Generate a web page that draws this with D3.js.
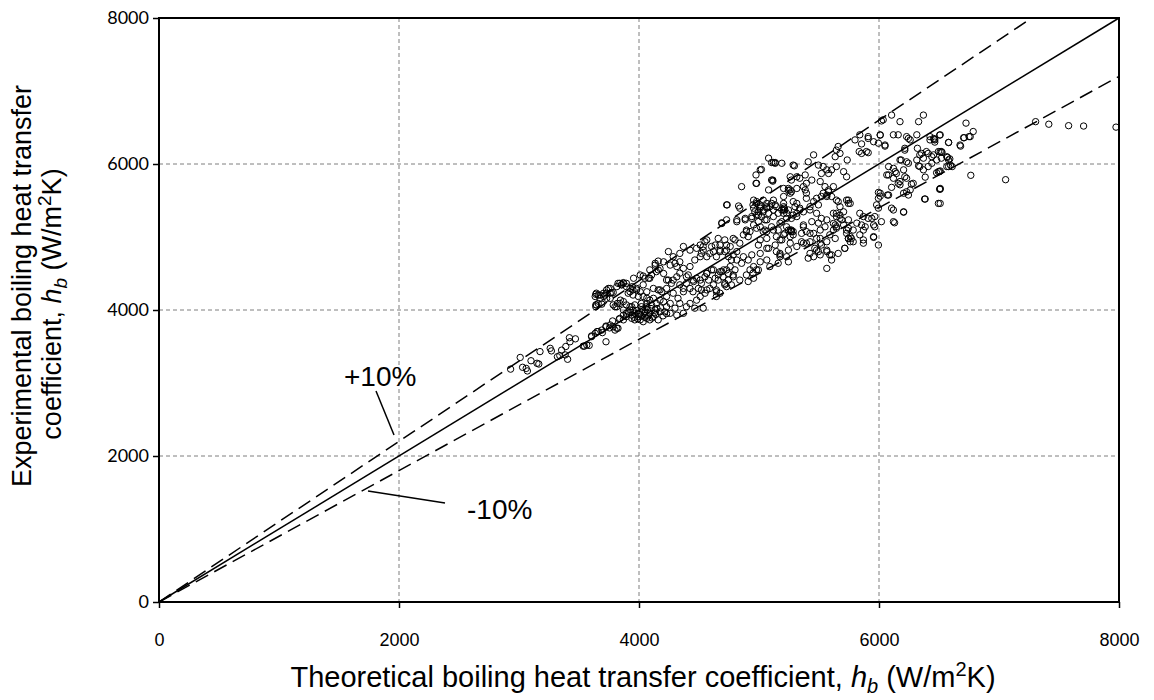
<!DOCTYPE html>
<html>
<head>
<meta charset="utf-8">
<script src="https://cdn.jsdelivr.net/npm/d3@7"></script>
<style>
  body { margin: 0; background: #fff; }
  svg text { font-family: "Liberation Sans", Arial, sans-serif; fill: #000; }
</style>
</head>
<body>
<div id="chart"></div>
<script>
// theoretical h_b (x) vs experimental h_b (y), W/m2K
const lowTail = [
  [2930,3190],[3010,3350],[3030,3215],[3060,3200],[3070,3165],[3100,3305],[3150,3270],[3165,3260],
  [3175,3430],[3260,3475],[3270,3440],[3320,3360],[3340,3375],[3355,3450],[3385,3385],[3390,3500],
  [3405,3325],[3420,3620],[3425,3565],[3470,3605],[3535,3505],[3545,3505],[3565,3520],[3585,3515],
  [3605,3635],[3605,3645],[3635,3680],[3650,3705],[3660,3705],[3690,3725],[3695,3690],[3725,3565],
  [3725,3780],[3725,3770],[3755,3755],[3760,3795],[3780,3850],[3785,3770],[3815,3750],[3835,3875],
  [3800,3725],[3825,3750],[3840,3885],[3870,3865]
];

const coreCluster = [
  [3640,4215],[3660,4205],[3675,4160],[3705,4185],[3730,4230],[3745,4295],[3760,4160],[3645,4070],
  [3690,4080],[3640,4045],[3785,4240],[3840,4365],[3870,4365],[3895,4320],[3945,4320],[3980,4275],
  [4035,4465],[4080,4435],[3800,4045],[3820,4090],[3845,4135],[3870,4000],[3895,3955],[3925,4000],
  [3940,4045],[3965,3955],[3995,3910],[4020,4045],[4050,3975],[4065,4090],
  [3870,3930],[3895,3910],[3940,3885],[3965,3865],[4010,3865],[4035,3840],[4065,3885],[4090,3865],
  [4120,3910],[4160,3865],[3910,3975],[3950,4000],[3995,3955],[4050,3955],[4090,3955],[4135,4000],
  [3925,4045],[3965,4070],[4020,4090],[4065,4045],[4105,4070],[4145,4090],[3840,4090],[3870,4115],
  [3895,4070],[3815,4045],[3785,4070],[3645,4230],[3635,4185],[3675,4205],[3640,4070],[3660,4090],
  [3715,4205],[3730,4160],[3760,4230],[3770,4240],[3825,4365],[3855,4345],[3870,4375],[3925,4295],
  [3950,4275],[4010,4250],[3910,4230],[3950,4205],[3995,4185],[4035,4185],[4065,4160],[4090,4135],
  [4120,4160],[4175,4135],[4205,4115],[4230,4185],[4160,4275],[4190,4250],[4230,4295],[4090,4435],
  [4145,4525],[4175,4570],[4205,4500],[4135,4640],[4260,4615],[4300,4640],[4340,4660],[4245,4410],
  [4285,4410],[4315,4455],[4340,4345],[4370,4295],[4395,4365],[4285,4230],[4325,4160],[4340,4090],
  [4230,4045],[4260,4090],[4300,4025],[4175,3975],[4215,3975],[4260,3955],[4315,3930],[4370,3955],
  [4395,4045],[4425,4090],[4480,4135],[4510,4185],[4550,4230],[4590,4295],[4620,4345],[4660,4410],
  [4700,4455],[4745,4500],[4450,4250],[4495,4295],[4520,4365],[4450,4410],[4480,4435],[4410,4480],
  [4465,4025],[4690,4525],[4730,4550],[4565,4500],[4605,4550],[4645,4275],[4675,4230],[4535,4025],
  [4645,4185],[4715,4365],[4745,4410],
  [3960,3900],[3990,3880],[4020,3920],[4050,3900],[4080,3920],[4110,3890],[4140,3940],[3980,3990],
  [4030,4010],[4070,4000],[4100,4020],[4130,3960],[4000,3940],[4060,3930],[3940,3930],[4150,4020],
  [4180,4030],[4200,3920],[4230,3950]
];

const midCluster = [
  [5105,6020],[5135,6020],[5295,5975],[4975,5850],[5020,5925],[4975,5735],[5115,5780],[4855,5690],
  [5260,5825],[5205,5665],[5245,5640],[4730,5440],[4955,5505],[4980,5485],[5010,5440],[5035,5505],
  [4955,5395],[4995,5345],[5035,5370],[5065,5415],[4980,5300],[5020,5280],[4940,5280],[5080,5325],
  [5105,5460],[5120,5370],[5145,5415],[5190,5370],[5205,5460],[5230,5325],[5285,5485],[5300,5415],
  [5315,5325],[5270,5255],[4690,5195],[4815,5210],[4885,5235],[4895,5095],[4925,5075],[4980,5120],
  [5035,5075],[5010,4960],[5065,4980],[5120,5095],[5145,5005],[5190,4960],[5245,5095],[5270,5075],
  [5260,5005],[4840,4915],[4800,4960],[4730,4890],[4660,4980],[4565,4960],[4510,4890],[4480,4845],
  [4425,4820],[4370,4870],[4340,4775],[4285,4730],[4245,4800],[4205,4660],[4160,4670],[4135,4615],
  [4090,4550],[4050,4435],[4010,4480],[3955,4435],[3895,4365],[3855,4345],[3815,4320],[3760,4295],
  [3730,4275],[3705,4230],[4315,4595],[4370,4570],[4425,4595],[4465,4685],[4510,4730],[4535,4820],
  [4590,4775],[4645,4730],[4675,4820],[4715,4800],[4745,4730],[4770,4685],[4815,4800],[4870,4730],
  [4910,4685],[4940,4755],[4955,4595],[4995,4550],[5010,4660],[5065,4685],[5175,4755],[5245,4660],
  [5090,4595],[4230,4410],[4270,4365],[4340,4505],[4395,4455],[4455,4390],[4510,4410],[4565,4505],
  [4620,4550],[4660,4480],[4705,4550],[4760,4595],[4785,4480],[4840,4410],[4895,4480],[4955,4435],
  [4160,4550],[4105,4480],[4035,4345],[3980,4295],[3925,4250],[4065,4250],[4120,4295],[4175,4275],
  [4370,4250],[4425,4295],[4565,4275],[4645,4250],[4730,4320],
  [4980,5735],[5115,5765],[4735,5440],[4830,5425],[4840,5395],[4950,5440],[4980,5460],[5010,5415],
  [5065,5395],[4965,5345],[4995,5300],[4940,5255],[4955,5165],[4995,5210],[5050,5235],[4690,5185],
  [4730,5235],[4815,5235],[4885,5255],[5105,5140],[5160,5095],[5065,5075],[4895,5075],[4870,5030],
  [4910,5005],[4785,4980],[4715,4960],[4675,4890],[4635,4890],[4605,4870],[4550,4935],[4535,4870],
  [4520,4775],[4565,4730],[4620,4800],[4675,4800],[4730,4820],[4760,4870],[4785,4755],[4815,4685],
  [4855,4640],[4995,4890],[5010,4775],[5080,4845],[5145,4800],[5230,4730],[5175,4730],[5160,4640],
  [4925,4550],[4950,4505],[4980,4550],[4800,4550],[4785,4455],[4675,4525],[4635,4435],[4580,4410],
  [4550,4455],[4715,4345],[4770,4345],[4910,4390],[4520,4275]
];

const upperCluster = [
  [5190,5210],[5230,5140],[5270,5095],[5215,5050],[5245,5370],[5205,5370],[5205,5325],[5260,5600],
  [5315,5665],[5385,5645],[5395,5530],[5340,5370],[5425,5415],[5495,5440],[5535,5600],[5565,5575],
  [5580,5645],[5620,5690],[5645,5505],[5660,5485],[5730,5505],[5745,5460],[5480,5325],[5520,5255],
  [5565,5235],[5620,5325],[5645,5280],[5675,5300],[5620,5185],[5635,5165],[5645,5120],[5730,5095],
  [5370,5140],[5425,5050],[5480,4980],[5510,4915],[5465,4845],[5495,4800],[5510,4755],[5565,4820],
  [5590,4755],[5565,4570],[5605,4685],[5410,4710],[5355,4935],[5395,4915],[5260,4915],[5315,5280],
  [5715,4845],[5745,4980],[5705,5345],
  [6020,6590],[6330,6580],[5840,6400],[5910,6375],[5955,6305],[5995,6285],[6050,6260],[5800,6330],
  [5855,6275],[5835,6170],[5895,6170],[6010,6400],[6120,6400],[6160,6400],[6230,6375],[6245,6350],
  [6260,6330],[6315,6400],[6425,6375],[6455,6350],[6465,6330],[6510,6400],[6580,6295],[5660,6240],
  [5645,6190],[5675,6145],[5635,6100],[5455,6125],[5410,6030],[5735,6055],[6215,6215],[6395,6170],
  [6455,6125],[6510,6170],[6520,6080],[6565,6100],[6580,6055],[6340,6125],[6175,6055],[6230,6030],
  [6315,6055],[6370,6080],[6410,5965],[6440,6010],[6340,5965],[6370,5920],[6495,5895],[6565,5965],
  [6595,5985],[6080,5965],[6120,5940],[6145,5870],[6120,5805],[6160,5735],[6175,5715],[6065,5850],
  [6230,5805],[6285,5735],[6260,5645],[6205,5600],[6230,5620],[6510,5665],[6380,5520],[6495,5460],
  [6205,5345],[6105,5395],[6120,5210],[5995,5610],[6010,5560],[6080,5575],[5980,5440],[5995,5395],
  [5965,5280],[5910,5255],[5840,5325],[5955,5165],[5955,5005],[5870,5095],[5840,5030],[5770,4980],
  [5760,4935],[5715,4845],[5815,5190],[5785,5095],[5745,5235],[5745,5120],[5705,5165],[5675,5255],
  [5645,5325],[5675,5415],[5745,5505],[5760,5460],[5645,5140],[5620,5095],[5590,5030],[5635,4980],
  [5565,4935],[5520,4890],[5480,4820],[5425,4775],[5455,4730],[5565,4800],[5605,4755],[5660,4775],
  [5510,4980],[5455,5050],[5395,5075],[5355,5050],[5285,5030],[5260,5095],[5270,5075],[5285,5075],
  [5205,5030],[5175,4960],[5135,4890],[5065,4845],[5175,4775],[5245,4820],[5315,4870],[5370,4915],
  [5425,4935],[5510,5095],[5550,5140],[5495,5190],[5440,5210],[5370,5165],
  [5080,6080],[5120,6020],[5135,6010],[5010,5920],[5105,5780],[5080,5645],[5190,6010],[5285,5985],
  [5495,5985],[5535,5965],[5565,5920],[5605,5920],[5645,5965],[5705,5895],[5730,5825],[5580,5870],
  [5520,5870],[5510,5760],[5550,5690],[5580,5620],[5605,5555],[5565,5555],[5520,5555],[5480,5530],
  [5455,5485],[5395,5600],[5370,5690],[5395,5735],[5440,5780],[5385,5850],[5340,5805],[5315,5825],
  [5270,5780],[5245,5665],[5260,5645],[5270,5620],[5205,5555],[5205,5415],[5210,5395],[5215,5370],
  [5120,5505],[5135,5440],[5065,5460],[5090,5415],[5010,5395],[5035,5345],[5120,5280],[5065,5235],
  [5010,5140],[5050,5095],[5160,5325],[5315,5460],[5340,5395],[5285,5300],[5370,5345],[5425,5370],
  [5230,5255],[5175,5190],
  [6105,6670],[6370,6670],[6035,6605],[6175,6580],[5910,6350],[6010,6395],[6050,6245],[6320,6215],
  [6425,6330],[6460,6340],[6465,6300],[6505,6395],[6675,6260],[5855,6145],[5910,6155],[6215,6190],
  [6355,6145],[6410,6145],[6440,6100],[6495,6170],[6520,6170],[6480,6055],[6185,6055],[6245,6010],
  [6330,5975],[6135,5895],[6205,5920],[6080,5850],[6175,5760],[6215,5825],[6270,5725],[6385,5820],
  [6480,5880],[6505,5895],[6505,5655],[6385,5520],[6120,5370],[6205,5340],[6130,5195],[6020,5210],
  [6245,5575],[6105,5680],[6070,5575],[6010,5600],[5995,5530],[5940,5255],[5965,5140],[5885,5140],
  [5855,5165],[5995,4890],[5955,4995],[5870,4960],[5870,4915],[5785,4935],[5745,4980],[5760,5005],
  [5870,5280],[5730,5050],[5690,5235]
];

const highTail = [
  [7305,6580],[7415,6545],[7580,6525],[7705,6520],[7975,6505],[6765,5845],[7055,5785],[6725,6560],
  [6785,6445],[6750,6375],[6705,6360],[6680,6245],[6580,6295],[6525,6160],[6570,6090],[6590,6070],
  [6580,5965],[6610,5965],[6510,5905],[6510,5655],[6510,5460],[6760,6375],[6710,6360]
];

const ticks = [0, 2000, 4000, 6000, 8000];
const plusBand = 1.1, minusBand = 0.9;

const points = [].concat(lowTail, coreCluster, midCluster, upperCluster, highTail);

const width = 1154, height = 700;
const plotLeft = 159, plotRight = 1119, plotTop = 18, plotBottom = 602;

const svg = d3.select('#chart').append('svg')
  .attr('width', width)
  .attr('height', height);

const x = d3.scaleLinear().domain([0, 8000]).range([plotLeft, plotRight]);
const y = d3.scaleLinear().domain([0, 8000]).range([plotBottom, plotTop]);

// gridlines
const grid = svg.append('g');
grid.selectAll('.vgrid').data(ticks.slice(1, -1)).enter().append('line')
  .attr('x1', d => x(d)).attr('x2', d => x(d))
  .attr('y1', plotTop).attr('y2', plotBottom)
  .attr('stroke', '#7f7f7f').attr('stroke-width', 1).attr('stroke-dasharray', '4,3');
grid.selectAll('.hgrid').data(ticks.slice(1, -1)).enter().append('line')
  .attr('y1', d => y(d)).attr('y2', d => y(d))
  .attr('x1', plotLeft).attr('x2', plotRight)
  .attr('stroke', '#7f7f7f').attr('stroke-width', 1).attr('stroke-dasharray', '4,3');

// axes
const xAxis = svg.append('g')
  .attr('transform', `translate(0,${plotBottom})`)
  .call(d3.axisBottom(x).tickValues(ticks).tickSize(6).tickPadding(25).tickFormat(d3.format('d')));
const yAxis = svg.append('g')
  .attr('transform', `translate(${plotLeft},0)`)
  .call(d3.axisLeft(y).tickValues(ticks).tickSize(6).tickPadding(4).tickFormat(d3.format('d')));

[xAxis, yAxis].forEach(a => {
  a.select('.domain').remove();
  a.selectAll('.tick line').attr('stroke', '#000').attr('stroke-width', 1.5);
});
xAxis.selectAll('.tick text').style('font-size', '18px').style('font-family', '"Liberation Sans", Arial, sans-serif');
yAxis.selectAll('.tick text').style('font-size', '18px').style('font-family', 'Lato, "Open Sans", sans-serif');

// reference lines
const line = d3.line().x(d => x(d[0])).y(d => y(d[1]));
svg.append('path')
  .attr('d', line([[0, 0], [8000, 8000]]))
  .attr('fill', 'none').attr('stroke', '#000').attr('stroke-width', 1.5);
svg.append('path')
  .attr('d', line([[0, 0], [8000 / plusBand, 8000]]))
  .attr('fill', 'none').attr('stroke', '#000').attr('stroke-width', 1.5).attr('stroke-dasharray', '14,7');
svg.append('path')
  .attr('d', line([[0, 0], [8000, 8000 * minusBand]]))
  .attr('fill', 'none').attr('stroke', '#000').attr('stroke-width', 1.5).attr('stroke-dasharray', '14,7');

// data points
svg.append('g').selectAll('circle')
  .data(points)
  .enter().append('circle')
  .attr('cx', d => x(d[0]))
  .attr('cy', d => y(d[1]))
  .attr('r', 3.2)
  .attr('fill', 'none')
  .attr('stroke', '#000')
  .attr('stroke-width', 1);

// frame
svg.append('rect')
  .attr('x', plotLeft).attr('y', plotTop)
  .attr('width', plotRight - plotLeft).attr('height', plotBottom - plotTop)
  .attr('fill', 'none').attr('stroke', '#000').attr('stroke-width', 2);

// band annotations
svg.append('line')
  .attr('x1', 376).attr('y1', 391).attr('x2', 394).attr('y2', 435)
  .attr('stroke', '#000').attr('stroke-width', 1.5);
svg.append('text')
  .attr('x', 344).attr('y', 386)
  .style('font-size', '28px')
  .text('+10%');
svg.append('line')
  .attr('x1', 368).attr('y1', 491).attr('x2', 445).attr('y2', 503)
  .attr('stroke', '#000').attr('stroke-width', 1.5);
svg.append('text')
  .attr('x', 467).attr('y', 519)
  .style('font-size', '28px')
  .text('-10%');

// axis titles
const xt = svg.append('text')
  .attr('x', 643)
  .attr('y', 687)
  .attr('text-anchor', 'middle')
  .style('font-size', '29px');
xt.append('tspan').text('Theoretical boiling heat transfer coefficient, ');
xt.append('tspan').style('font-style', 'italic').text('h');
xt.append('tspan').style('font-style', 'italic').style('font-size', '20px').attr('dy', 6).text('b');
xt.append('tspan').attr('dy', -6).text(' (W/m');
xt.append('tspan').style('font-size', '20px').attr('dy', -11).text('2');
xt.append('tspan').attr('dy', 11).text('K)');

const yt = svg.append('g')
  .attr('transform', `translate(0,${(plotTop + plotBottom) / 2}) rotate(-90)`);
yt.append('text')
  .attr('x', 24).attr('y', 31)
  .attr('text-anchor', 'middle')
  .style('font-size', '27px')
  .text('Experimental boiling heat transfer');
const yt2 = yt.append('text')
  .attr('x', 6).attr('y', 61)
  .attr('text-anchor', 'middle')
  .style('font-size', '27px');
yt2.append('tspan').text('coefficient, ');
yt2.append('tspan').style('font-style', 'italic').text('h');
yt2.append('tspan').style('font-style', 'italic').style('font-size', '19px').attr('dy', 6).text('b');
yt2.append('tspan').attr('dy', -6).text('  (W/m');
yt2.append('tspan').style('font-size', '19px').attr('dy', -10).text('2');
yt2.append('tspan').attr('dy', 10).text('K)');
</script>
</body>
</html>
